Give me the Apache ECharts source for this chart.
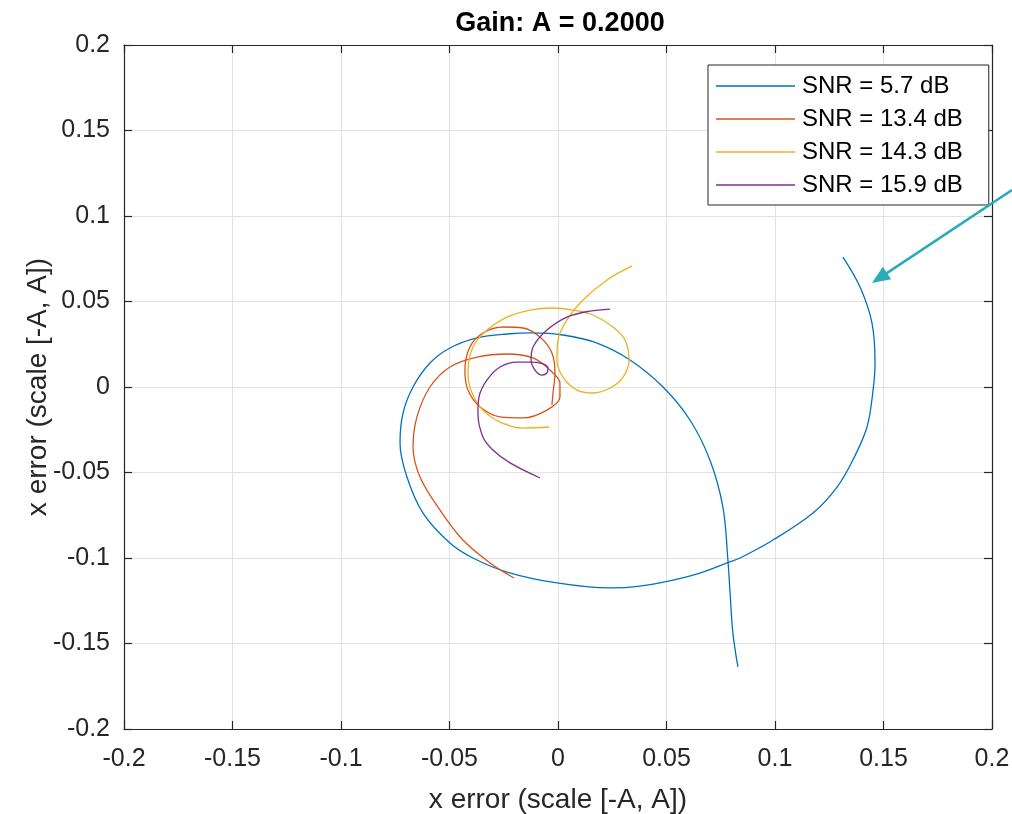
<!DOCTYPE html>
<html>
<head>
<meta charset="utf-8">
<script src="https://cdn.jsdelivr.net/npm/echarts@6/dist/echarts.min.js"></script>
<style>html,body{margin:0;padding:0;background:#fff;}#c{width:1012px;height:814px;}</style>
</head>
<body>
<div id="c"></div>
<script>
const seriesNames = ['SNR = 5.7 dB', 'SNR = 13.4 dB', 'SNR = 14.3 dB', 'SNR = 15.9 dB'];
const snr57 = [
[0.1313,0.0760],[0.1392,0.0585],[0.1447,0.0374],[0.1461,0.0140],[0.1452,-0.0018],[0.1424,-0.0234],
[0.1359,-0.0427],[0.1286,-0.0585],[0.1175,-0.0737],[0.0991,-0.0895],[0.0839,-0.1000],[0.0779,-0.1029],
[0.0654,-0.1088],[0.0530,-0.1129],[0.0378,-0.1164],[0.0240,-0.1175],[-0.0005,-0.1146],[-0.0235,-0.1082],
[-0.0392,-0.1000],[-0.0498,-0.0912],[-0.0622,-0.0737],[-0.0696,-0.0526],[-0.0728,-0.0327],[-0.0714,-0.0152],
[-0.0668,0.0000],[-0.0590,0.0140],[-0.0498,0.0228],[-0.0373,0.0287],[-0.0235,0.0310],[-0.0115,0.0316],
[0.0023,0.0304],[0.0180,0.0257],[0.0332,0.0158],[0.0484,0.0000],[0.0608,-0.0193],[0.0700,-0.0427],
[0.0760,-0.0702],[0.0783,-0.1012],[0.0793,-0.1205],[0.0806,-0.1439],[0.0829,-0.1637]
];
const snr134 = [
[-0.0203,-0.1117],[-0.0313,-0.1029],[-0.0438,-0.0895],[-0.0544,-0.0719],[-0.0636,-0.0526],[-0.0668,-0.0351],
[-0.0650,-0.0175],[-0.0590,0.0000],[-0.0498,0.0117],[-0.0373,0.0175],[-0.0235,0.0193],[-0.0115,0.0170],
[-0.0037,0.0099],[0.0009,0.0023],[0.0009,-0.0058],[-0.0051,-0.0135],[-0.0161,-0.0181],[-0.0267,-0.0175],
[-0.0359,-0.0117],[-0.0415,-0.0018],[-0.0429,0.0099],[-0.0406,0.0234],[-0.0346,0.0316],[-0.0253,0.0351],
[-0.0161,0.0345],[-0.0083,0.0292],[-0.0028,0.0199],[-0.0014,0.0082],[-0.0023,-0.0035],[-0.0028,-0.0105]
];
const snr143 = [
[0.0341,0.0708],[0.0226,0.0626],[0.0115,0.0509],[0.0041,0.0392],[0.0000,0.0275],[-0.0005,0.0158],
[0.0023,0.0058],[0.0088,-0.0018],[0.0161,-0.0035],[0.0240,-0.0006],[0.0300,0.0058],[0.0327,0.0158],
[0.0309,0.0275],[0.0253,0.0351],[0.0161,0.0421],[0.0069,0.0450],[-0.0023,0.0462],[-0.0129,0.0450],
[-0.0235,0.0409],[-0.0327,0.0333],[-0.0392,0.0234],[-0.0415,0.0082],[-0.0396,-0.0035],[-0.0346,-0.0135],
[-0.0267,-0.0205],[-0.0161,-0.0240],[-0.0041,-0.0234]
];
const snr159 = [
[0.0240,0.0456],[0.0147,0.0444],[0.0041,0.0409],[-0.0051,0.0333],[-0.0115,0.0234],[-0.0124,0.0158],
[-0.0106,0.0099],[-0.0074,0.0070],[-0.0051,0.0082],[-0.0046,0.0111],[-0.0069,0.0135],[-0.0115,0.0146],
[-0.0189,0.0146],[-0.0267,0.0117],[-0.0327,0.0041],[-0.0364,-0.0058],[-0.0369,-0.0152],[-0.0346,-0.0292],
[-0.0300,-0.0368],[-0.0221,-0.0444],[-0.0083,-0.0532]
];
const arrowTail = [0.2092, 0.1152];
const arrowTip = [0.1447, 0.0608];

const colors = ['#0072BD', '#D95319', '#EDB120', '#7E2F8E'];
const allData = [snr57, snr134, snr143, snr159];
const font = '"Liberation Sans", Arial, Helvetica, sans-serif';
const axisColor = '#262626';

const chart = echarts.init(document.getElementById('c'), null, {renderer: 'canvas'});
const axisCommon = {
  type: 'value', min: -0.2, max: 0.2, interval: 0.05,
  axisLine: {show: true, onZero: false, lineStyle: {color: axisColor, width: 1.2}},
  axisTick: {show: true, inside: true, length: 8, lineStyle: {color: axisColor, width: 1.2}},
  splitLine: {show: true, lineStyle: {color: '#e2e2e2', width: 1}},
  axisLabel: {color: axisColor, fontSize: 25, fontFamily: font, margin: 14},
  nameTextStyle: {color: axisColor, fontSize: 28, fontFamily: font},
  nameMoveOverlap: false
};
const option = {
  animation: false,
  color: colors,
  title: {
    text: 'Gain: A = 0.2000', left: 555, top: 5, textAlign: 'center',
    textStyle: {fontSize: 27, fontWeight: 'bold', color: '#000', fontFamily: font}
  },
  grid: {left: 124, right: 20, top: 45, bottom: 85, containLabel: false, outerBoundsMode: 'none'},
  legend: {
    data: seriesNames, orient: 'vertical', left: 708, top: 65,
    icon: 'rect', itemWidth: 79, itemHeight: 1.5, itemGap: 9,
    padding: [9, 26, 8, 8],
    backgroundColor: '#fff', borderColor: axisColor, borderWidth: 1, borderRadius: 0,
    textStyle: {fontSize: 24, fontFamily: font, color: '#000', lineHeight: 24, padding: [0, 0, 0, 2]}
  },
  xAxis: [
    Object.assign({}, axisCommon, {position: 'bottom', name: 'x error (scale [-A, A])', nameLocation: 'middle', nameGap: 57,
      axisLabel: {color: axisColor, fontSize: 25, fontFamily: font, margin: 18}}),
    Object.assign({}, axisCommon, {position: 'top', axisLabel: {show: false}, splitLine: {show: false}})
  ],
  yAxis: [
    Object.assign({}, axisCommon, {position: 'left', name: 'x error (scale [-A, A])', nameLocation: 'middle', nameGap: 72}),
    Object.assign({}, axisCommon, {position: 'right', axisLabel: {show: false}, splitLine: {show: false}})
  ],
  series: allData.map((d, i) => ({
    name: seriesNames[i], type: 'line', data: d, showSymbol: false, symbol: 'none',
    smooth: 0.35, lineStyle: {width: 1.3, color: colors[i]}, itemStyle: {color: colors[i]},
    xAxisIndex: 0, yAxisIndex: 0, z: 2 + i
  }))
};
chart.setOption(option);

// Annotation arrow (positions from data coordinates)
const t0 = chart.convertToPixel({xAxisIndex: 0, yAxisIndex: 0}, arrowTail);
const t1 = chart.convertToPixel({xAxisIndex: 0, yAxisIndex: 0}, arrowTip);
const dx = t1[0] - t0[0], dy = t1[1] - t0[1];
const L = Math.sqrt(dx * dx + dy * dy);
const ux = dx / L, uy = dy / L;
const headLen = 18, headW = 7.5;
const bx = t1[0] - ux * headLen, by = t1[1] - uy * headLen;
chart.setOption({
  graphic: [
    {type: 'line', shape: {x1: t0[0], y1: t0[1], x2: bx + ux * 2, y2: by + uy * 2},
     style: {stroke: '#2AABB8', lineWidth: 2.6}, z: 100},
    {type: 'polygon', shape: {points: [[t1[0], t1[1]], [bx - uy * headW, by + ux * headW], [bx + uy * headW, by - ux * headW]]},
     style: {fill: '#2AABB8'}, z: 100}
  ]
});
</script>
</body>
</html>
